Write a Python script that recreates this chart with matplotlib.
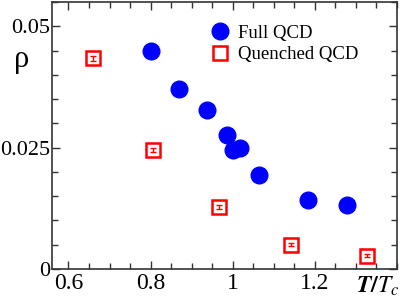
import matplotlib.pyplot as plt
from matplotlib.ticker import MultipleLocator, FixedLocator
from matplotlib.lines import Line2D

# Full QCD
t_full = [0.80, 0.868, 0.938, 0.985, 1.0, 1.017, 1.063, 1.184, 1.278]
rho_full = [0.0449, 0.0371, 0.0328, 0.0277, 0.0245, 0.0250, 0.0193, 0.0143, 0.0132]

# Quenched QCD
t_q = [0.66, 0.805, 0.966, 1.141, 1.327]
rho_q = [0.0434, 0.0245, 0.0128, 0.0050, 0.0027]
err_q = [0.0005, 0.0005, 0.0004, 0.0003, 0.0003]

plt.rcParams['font.family'] = ['Liberation Serif', 'DejaVu Serif']
plt.rcParams['mathtext.fontset'] = 'stix'

fig = plt.figure(figsize=(4.01, 3.02), dpi=100)
ax = fig.add_axes([52/401, 1 - 269/302, (397 - 52)/401, (269 - 2)/302])

ax.plot(t_full, rho_full, 'o', color='#0000ff', ms=12, mec='#0000ff', zorder=3)
ax.plot(t_q, rho_q, 's', mfc='white', mec='#ff0000', ms=10, mew=1.8, zorder=3)
ax.errorbar(t_q, rho_q, yerr=err_q, fmt='none', ecolor='#ff0000', elinewidth=1,
            capsize=2.5, capthick=1, zorder=4)

ax.set_xlim(0.56, 1.4)
ax.set_ylim(0, 0.055)
ax.xaxis.set_major_locator(FixedLocator([0.6, 0.8, 1.0, 1.2]))
ax.xaxis.set_minor_locator(MultipleLocator(0.05))
ax.yaxis.set_major_locator(FixedLocator([0, 0.025, 0.05]))
ax.yaxis.set_minor_locator(MultipleLocator(0.005))
ax.set_xticklabels(['0.6', '0.8', '1', '1.2'], fontsize=17)
ax.set_yticklabels(['0', '0.025', '0.05'], fontsize=16)

ax.tick_params(which='both', direction='in', top=True, right=True, color='#333333')
ax.tick_params(which='major', length=6, width=1, pad=3)
ax.tick_params(axis='y', which='major', pad=1.5)
ax.tick_params(which='minor', length=4, width=1)
for s in ax.spines.values():
    s.set_color('#333333')
    s.set_linewidth(1.2)

fig.text(22/401, 1 - 60/302, 'ρ', fontsize=22, ha='center', va='center')
fig.text(378/401, 1 - 286/302, r'$\boldsymbol{T/T_c}$', fontsize=17, ha='center', va='center')

labels = ['Full QCD', 'Quenched QCD']
handles = [Line2D([], [], marker='o', ls='', color='#0000ff', ms=12),
           Line2D([], [], marker='s', ls='', mfc='white', mec='#ff0000', mew=1.8, ms=10)]
ax.legend(handles, labels, loc='upper left', bbox_to_anchor=(0.415, 0.965), frameon=False, fontsize=13.5,
          handletextpad=0.4, labelspacing=0.25, borderpad=0.2, handlelength=1.2)

fig.savefig('out.png', dpi=100)
